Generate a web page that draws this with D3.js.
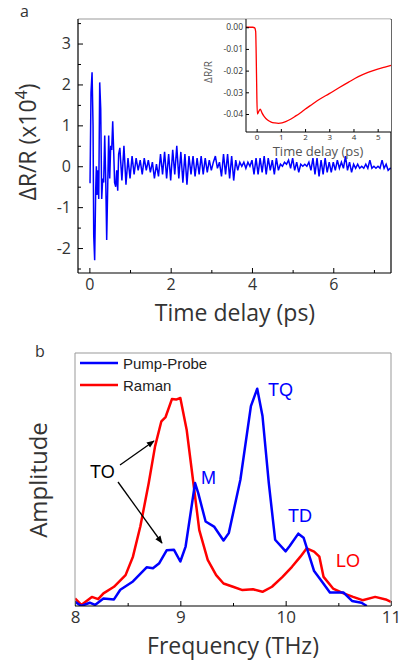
<!DOCTYPE html>
<html><head><meta charset="utf-8">
<script src="https://cdn.jsdelivr.net/npm/d3@7"></script>
<style>
body{margin:0;background:#fff}
svg text{font-family:"Open Sans",sans-serif;fill:#333}
.arial{font-family:"Liberation Sans",Arial,sans-serif}
</style></head><body>
<svg id="fig" width="402" height="661"></svg>
<script>
// ---- panel a: pump-probe oscillation (x10^4), first burst read point by point
var burstT = [0.00,0.016,0.04,0.066,0.09,0.107,0.13,0.155,0.172,0.189,0.205,0.23,0.254,0.279,0.303,0.328,0.352,0.377,0.402,0.426,0.451,0.475,0.50,0.525,0.549,0.574,0.60,0.62,0.648,0.672,0.697,0.72];
var burstV = [-0.4,-0.4,1.8,2.3,1.0,-1.7,-2.3,-0.6,0.0,-0.7,-0.1,-0.8,2.05,1.4,-0.8,-0.3,-0.4,0.75,-0.3,-1.8,-0.5,0.75,-0.3,0.5,0.4,1.1,0.3,-0.4,-0.5,-0.1,-0.6,0.3];
// tail, sampled every 0.05 ps from 0.75 ps
var tailStart = 0.75, tailStep = 0.05;
var tailV = [0.45,-0.35,0.5,-0.45,0.2,-0.3,0.25,-0.2,0.2,-0.1,
  0.15,-0.2,0.2,-0.1,0.15,-0.15,0.1,-0.3,0.05,-0.25,
  0.3,-0.2,0.35,-0.3,0.3,-0.35,0.4,-0.2,0.5,-0.3,
  0.35,-0.4,0.3,-0.45,0.25,-0.2,0.25,-0.25,0.2,-0.2,
  0.25,-0.2,0.2,-0.15,0.15,-0.1,0.1,0.25,-0.05,0.1,
  -0.25,0.3,-0.2,0.3,-0.3,0.25,-0.35,0.15,-0.1,0.1,
  0.0,0.1,-0.05,0.1,0.0,0.15,-0.2,0.2,-0.2,0.2,
  -0.15,0.25,-0.2,0.2,-0.1,0.15,-0.2,0.2,-0.1,0.05,
  0.0,0.1,0.05,0.15,-0.05,0.2,-0.1,0.1,-0.15,0.05,
  0.0,0.05,0.0,0.1,-0.1,0.2,-0.2,0.2,-0.25,0.15,
  -0.2,0.2,-0.15,0.1,-0.15,0.1,-0.1,0.15,-0.05,0.1,
  -0.05,0.25,-0.1,0.1,-0.15,0.05,-0.05,0.05,-0.05,0.0,
  -0.05,0.05,-0.05,0.15,-0.05,0.0,-0.05,0.0,-0.05,0.15,
  -0.05,0.05,-0.1,-0.05,-0.06];
var topXTicks = [0,2,4,6], topXMinor = [1,3,5,7];
var topYTicks = [-2,-1,0,1,2,3], topYMinor = [-2.5,-1.5,-0.5,0.5,1.5,2.5,3.5];

// inset: transient reflectivity
var insetT = [-0.44,-0.16,-0.08,-0.04,-0.02,0.0,0.01,0.03,0.06,0.10,0.15,0.22,0.3,0.45,0.6,0.75,0.9,1.05,1.2,1.4,1.6,1.8,2.0,2.3,2.6,3.0,3.4,3.8,4.2,4.6,5.0,5.3,5.55];
var insetV = [0.0,0.0,-0.0003,-0.002,-0.012,-0.026,-0.033,-0.040,-0.0395,-0.0385,-0.0378,-0.0395,-0.041,-0.0428,-0.0437,-0.0441,-0.0443,-0.0441,-0.0435,-0.0424,-0.041,-0.0395,-0.0378,-0.0355,-0.0332,-0.0306,-0.0279,-0.0253,-0.0228,-0.0208,-0.0193,-0.0184,-0.0176];
var insetXTicks = [0,1,2,3,4,5], insetYTicks = [0,-0.01,-0.02,-0.03,-0.04];

// ---- panel b: spectra
var ppFreq = [8.0,8.06,8.14,8.19,8.27,8.37,8.43,8.55,8.68,8.74,8.8,8.87,8.94,9.0,9.05,9.14,9.17,9.24,9.32,9.41,9.46,9.57,9.67,9.73,9.78,9.84,9.9,10.0,10.04,10.12,10.17,10.27,10.33,10.42,10.47,10.55,10.63,10.72,10.77];
var ppAmp = [0.017,0.0,0.013,0.004,0.03,0.026,0.064,0.097,0.153,0.149,0.169,0.22,0.222,0.176,0.235,0.486,0.446,0.334,0.314,0.259,0.288,0.499,0.79,0.859,0.751,0.486,0.262,0.216,0.238,0.286,0.27,0.138,0.105,0.053,0.053,0.053,0.02,0.013,0.0];
var ramanFreq = [8.0,8.06,8.16,8.22,8.27,8.37,8.48,8.55,8.62,8.7,8.76,8.82,8.86,8.92,8.96,9.0,9.06,9.12,9.18,9.26,9.34,9.41,9.5,9.59,9.69,9.78,9.87,9.97,10.06,10.14,10.2,10.27,10.32,10.36,10.45,10.55,10.64,10.73,10.85,10.95,11.0];
var ramanAmp = [0.03,0.004,0.036,0.027,0.05,0.076,0.122,0.195,0.314,0.486,0.631,0.73,0.747,0.818,0.816,0.822,0.697,0.499,0.3,0.182,0.122,0.089,0.076,0.063,0.066,0.056,0.076,0.115,0.155,0.195,0.228,0.215,0.195,0.115,0.069,0.05,0.036,0.023,0.036,0.026,0.016];
var freqTicks = [8,9,10,11], freqMinor = [8.5,9.5,10.5];
var seriesNames = ["Pump-Probe","Raman"];
var seriesColors = ["#0000ff","#ff0000"];

var svg = d3.select("#fig");

function styleAxis(g, size) {
  g.select(".domain").remove();
  g.selectAll("line").attr("stroke", "#000");
  g.selectAll("text").style("font-size", size + "px").attr("fill", "#333");
}

// ================= panel a =================
var xT = d3.scaleLinear().domain([-0.28, 7.42]).range([78, 391]);
var yT = d3.scaleLinear().domain([-2.61, 3.6]).range([273, 19]);

svg.append("clipPath").attr("id", "clipA").append("rect")
  .attr("x", 78).attr("y", 19).attr("width", 313).attr("height", 254);

var sig = burstT.map(function(t, i) { return [t, burstV[i]]; })
  .concat(tailV.map(function(v, i) { return [tailStart + i * tailStep, v]; }));

svg.append("path").datum(sig)
  .attr("clip-path", "url(#clipA)")
  .attr("fill", "none").attr("stroke", "#0000ff").attr("stroke-width", 1.5)
  .attr("d", d3.line().x(function(d) { return xT(d[0]); }).y(function(d) { return yT(d[1]); }));

svg.append("g").attr("transform", "translate(0,273)")
  .call(d3.axisBottom(xT).tickValues(topXTicks).tickSize(-5).tickPadding(6).tickFormat(String))
  .call(styleAxis, 16);
svg.append("g").attr("transform", "translate(0,273)")
  .call(d3.axisBottom(xT).tickValues(topXMinor).tickSize(-3).tickFormat(""))
  .call(styleAxis, 16);
svg.append("g").attr("transform", "translate(78,0)")
  .call(d3.axisLeft(yT).tickValues(topYTicks).tickSize(-5).tickPadding(7).tickFormat(String))
  .call(styleAxis, 16);
svg.append("g").attr("transform", "translate(78,0)")
  .call(d3.axisLeft(yT).tickValues(topYMinor).tickSize(-3).tickFormat(""))
  .call(styleAxis, 16);

// frame
svg.append("line").attr("x1", 78).attr("x2", 391).attr("y1", 19).attr("y2", 19).attr("stroke", "#999");
svg.append("line").attr("x1", 391).attr("x2", 391).attr("y1", 19).attr("y2", 273).attr("stroke", "#000").attr("stroke-width", 1.2);
svg.append("line").attr("x1", 78).attr("x2", 391).attr("y1", 273).attr("y2", 273).attr("stroke", "#000").attr("stroke-width", 1.2);
svg.append("line").attr("x1", 78).attr("x2", 78).attr("y1", 19).attr("y2", 273).attr("stroke", "#000").attr("stroke-width", 1.2);

svg.append("text").attr("x", 235).attr("y", 321).attr("text-anchor", "middle")
  .style("font-size", "23px").text("Time delay (ps)");
var yl = svg.append("text").attr("transform", "translate(36,142) rotate(-90)")
  .attr("text-anchor", "middle").style("font-size", "23px");
yl.append("tspan").text("ΔR/R (x10");
yl.append("tspan").attr("dy", -9).style("font-size", "16px").text("4");
yl.append("tspan").attr("dy", 9).text(")");
svg.append("text").attr("x", 20).attr("y", 17).style("font-size", "16px").text("a");

// ---- inset
var xI = d3.scaleLinear().domain([-0.44, 5.55]).range([246, 391]);
var yI = d3.scaleLinear().domain([-0.0483, 0.0038]).range([132, 19]);
svg.append("rect").attr("x", 246).attr("y", 19.5).attr("width", 145).attr("height", 112.5).attr("fill", "#fff");
svg.append("path").datum(insetT.map(function(t, i) { return [t, insetV[i]]; }))
  .attr("fill", "none").attr("stroke", "#ff0000").attr("stroke-width", 1.3)
  .attr("d", d3.line().x(function(d) { return xI(d[0]); }).y(function(d) { return yI(d[1]); }).curve(d3.curveMonotoneX));
svg.append("g").attr("transform", "translate(0,132)")
  .call(d3.axisBottom(xI).tickValues(insetXTicks).tickSize(-3).tickPadding(2).tickFormat(String))
  .call(styleAxis, 8)
  .selectAll("text").attr("fill", "#777");
svg.append("g").attr("transform", "translate(246,0)")
  .call(d3.axisLeft(yI).tickValues(insetYTicks).tickSize(-3).tickPadding(3).tickFormat(d3.format(".2f")))
  .call(styleAxis, 8.5)
  .selectAll("text").attr("fill", "#777").text(function(d) { return d3.format(".2f")(d).replace("−", "-"); });
svg.append("line").attr("x1", 246).attr("x2", 246).attr("y1", 19).attr("y2", 132).attr("stroke", "#000");
svg.append("line").attr("x1", 246).attr("x2", 391).attr("y1", 132).attr("y2", 132).attr("stroke", "#000");
svg.append("text").attr("x", 318).attr("y", 156).attr("text-anchor", "middle")
  .style("font-size", "13px").style("fill", "#555").text("Time delay (ps)");
svg.append("text").attr("transform", "translate(212,72) rotate(-90)").attr("text-anchor", "middle")
  .style("font-size", "10px").style("fill", "#555").text("ΔR/R");

// ================= panel b =================
var xF = d3.scaleLinear().domain([8, 11]).range([75, 391]);
var yA = d3.scaleLinear().domain([0, 1]).range([606, 353]);

svg.append("clipPath").attr("id", "clipB").append("rect")
  .attr("x", 75).attr("y", 353).attr("width", 316).attr("height", 253);

var ampLine = d3.line().x(function(d) { return xF(d[0]); }).y(function(d) { return yA(d[1]); });
svg.append("path").datum(ramanFreq.map(function(f, i) { return [f, ramanAmp[i]]; }))
  .attr("clip-path", "url(#clipB)").attr("fill", "none")
  .attr("stroke", seriesColors[1]).attr("stroke-width", 2.5).attr("stroke-linejoin", "round")
  .attr("d", ampLine);
svg.append("path").datum(ppFreq.map(function(f, i) { return [f, ppAmp[i]]; }))
  .attr("clip-path", "url(#clipB)").attr("fill", "none")
  .attr("stroke", seriesColors[0]).attr("stroke-width", 2.5).attr("stroke-linejoin", "round")
  .attr("d", ampLine);

svg.append("g").attr("transform", "translate(0,606)")
  .call(d3.axisBottom(xF).tickValues(freqTicks).tickSize(-5).tickPadding(5).tickFormat(String))
  .call(styleAxis, 17);
svg.append("g").attr("transform", "translate(0,606)")
  .call(d3.axisBottom(xF).tickValues(freqMinor).tickSize(-3).tickFormat(""))
  .call(styleAxis, 17);

svg.append("path").attr("d", "M75,606V353H391V606").attr("fill", "none").attr("stroke", "#999");
svg.append("line").attr("x1", 75).attr("x2", 391).attr("y1", 606).attr("y2", 606).attr("stroke", "#000").attr("stroke-width", 1.2);

svg.append("text").attr("x", 233).attr("y", 654).attr("text-anchor", "middle")
  .style("font-size", "23px").text("Frequency (THz)");
svg.append("text").attr("transform", "translate(47,480) rotate(-90)").attr("text-anchor", "middle")
  .style("font-size", "24px").text("Amplitude");
svg.append("text").attr("x", 35).attr("y", 357).style("font-size", "16px").text("b");

// legend
var leg = svg.append("g");
seriesNames.forEach(function(name, i) {
  var y = 363 + i * 22;
  leg.append("line").attr("x1", 80).attr("x2", 118).attr("y1", y).attr("y2", y)
    .attr("stroke", seriesColors[i]).attr("stroke-width", 2.5);
  leg.append("text").attr("class", "arial").attr("x", 123).attr("y", y + 6)
    .style("font-size", "15px").style("fill", "#222").text(name);
});

// peak labels
var peakLabels = [
  {t: "TQ", x: 268, y: 396, c: seriesColors[0]},
  {t: "M", x: 201, y: 484, c: seriesColors[0]},
  {t: "TD", x: 288, y: 522, c: seriesColors[0]},
  {t: "LO", x: 336, y: 567, c: seriesColors[1]},
  {t: "TO", x: 90, y: 478, c: "#000"}
];
svg.selectAll(".peak").data(peakLabels).enter().append("text")
  .attr("class", "peak arial").attr("x", function(d) { return d.x; }).attr("y", function(d) { return d.y; })
  .style("font-size", "18px").style("fill", function(d) { return d.c; }).text(function(d) { return d.t; });

svg.append("defs").append("marker").attr("id", "arr")
  .attr("viewBox", "0 0 10 10").attr("refX", 9).attr("refY", 5)
  .attr("markerWidth", 6).attr("markerHeight", 6).attr("orient", "auto")
  .append("path").attr("d", "M0,1L10,5L0,9z").attr("fill", "#000");
svg.append("line").attr("x1", 120).attr("y1", 465).attr("x2", 154).attr("y2", 441)
  .attr("stroke", "#000").attr("stroke-width", 1.3).attr("marker-end", "url(#arr)");
svg.append("line").attr("x1", 118).attr("y1", 482).attr("x2", 162).attr("y2", 543)
  .attr("stroke", "#000").attr("stroke-width", 1.3).attr("marker-end", "url(#arr)");
</script>
</body></html>
